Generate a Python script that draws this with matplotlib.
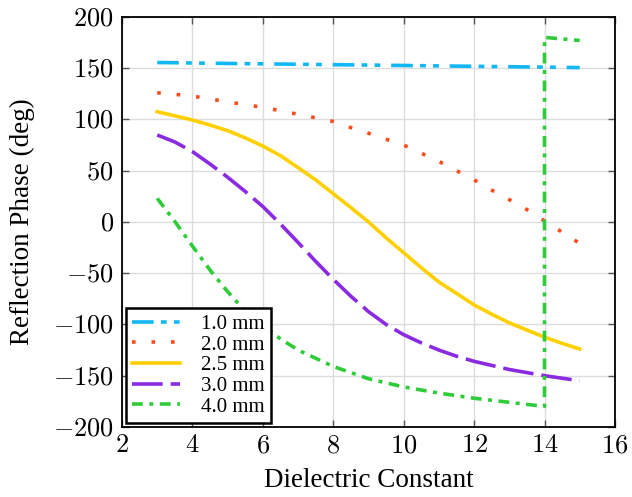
import matplotlib
matplotlib.use("Agg")
import matplotlib.pyplot as plt
from matplotlib.ticker import FuncFormatter

plt.rcParams['font.family'] = ['Liberation Serif', 'DejaVu Serif']
plt.rcParams['mathtext.fontset'] = 'cm'

# values, half-step sampling
eps = [3, 3.5, 4, 4.5, 5, 5.5, 6, 6.5, 7, 7.5, 8, 8.5, 9, 9.5, 10,
       10.5, 11, 11.5, 12, 12.5, 13, 13.5, 14, 14.5, 15]

phase_10 = [155.5, 155.3, 155, 154.8, 154.6, 154.4, 154.2, 154, 153.8, 153.6,
            153.4, 153.2, 153, 152.8, 152.6, 152.4, 152.2, 152, 151.8, 151.6,
            151.4, 151.2, 151, 150.8, 150.5]
phase_20 = [126, 124.5, 122.7, 120, 117, 114.5, 111.7, 108.5, 105, 101.5,
            98, 92, 86.5, 80.7, 75, 67, 59, 50, 41, 31,
            21.7, 12, 1, -10, -21]
phase_25 = [107.5, 103.5, 99.4, 94.5, 89, 82, 74, 64.6, 53, 41,
            27.5, 14, 0, -15.5, -30, -44.7, -58.6, -69.7, -81, -90,
            -98.5, -105.5, -112.5, -118.5, -124]
phase_30 = [84.8, 78, 68.6, 56.5, 43.6, 29.7, 15, -2, -20, -38.5,
            -56, -72.5, -87.5, -100, -110, -118, -125, -131, -136, -140,
            -144, -147, -150, -152.5, -155]
eps_40 = [3, 3.5, 4, 4.5, 5, 5.5, 6, 6.5, 7, 7.5, 8, 8.5, 9, 9.5, 10,
          10.5, 11, 11.5, 12, 12.5, 13, 13.5, 14, 14, 15]
phase_40 = [23, 0.5, -23.5, -47, -68, -87, -102, -114, -125, -133,
            -141, -147, -153, -157, -161, -164, -167, -169.5, -172, -174,
            -176, -178, -180, 180, 177]

fig = plt.figure(figsize=(6.32, 4.97), dpi=100)
ax = fig.add_axes([0.193, 0.141, 0.78, 0.825])

lw = 2.6
ax.plot(eps, phase_10, color='#12B8F5', lw=lw, linestyle=(0, (6, 2, 1.6, 2, 1.6, 3)),
        label='1.0 mm')
ax.plot(eps, phase_20, color='#FF4A1A', lw=lw, linestyle=(0, (1, 4.4)),
        label='2.0 mm')
ax.plot(eps, phase_25, color='#FFD000', lw=lw, linestyle='-', label='2.5 mm')
ax.plot(eps, phase_30, color='#8A2BE2', lw=lw, linestyle=(0, (8.5, 2.2)),
        label='3.0 mm')
ax.plot(eps_40, phase_40, color='#2FCC3A', lw=lw, linestyle=(0, (3, 1.8, 1.1, 1.8)),
        label='4.0 mm')

ax.set_xlim(2, 16)
ax.set_ylim(-200, 200)
ax.set_xticks(range(2, 17, 2))
ax.set_yticks(range(-200, 201, 50))
fmt = FuncFormatter(lambda v, p: f"${int(v)}$")
ax.xaxis.set_major_formatter(fmt)
ax.yaxis.set_major_formatter(fmt)
ax.tick_params(direction='in', top=True, right=True, length=5, width=1,
               color='#555555', labelsize=19, pad=6)
ax.grid(True, color='#dddddd', lw=1)
ax.set_axisbelow(True)
for s in ax.spines.values():
    s.set_linewidth(1.3)

ax.set_xlabel('Dielectric Constant', fontsize=19.5, labelpad=8)
ax.set_ylabel('Reflection Phase (deg)', fontsize=19.5, labelpad=13)

leg = ax.legend(loc='lower left', fontsize=15, fancybox=False, framealpha=1,
                edgecolor='black', handlelength=2.3, borderpad=0.3,
                labelspacing=0.05, handletextpad=1.0, borderaxespad=0.2)
leg.get_frame().set_linewidth(1.8)

fig.savefig('out.png', dpi=100)
